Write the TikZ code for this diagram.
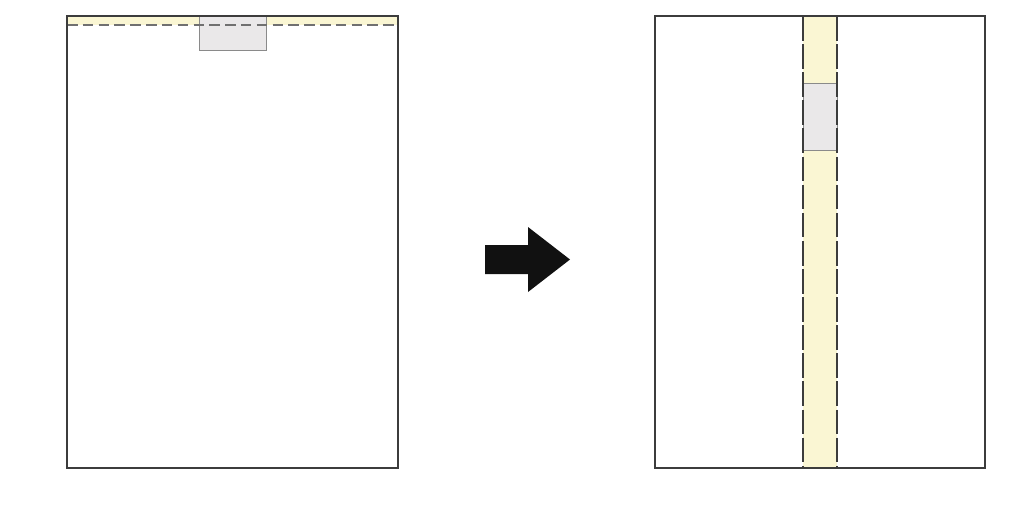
\documentclass[tikz,border=0pt]{standalone}
\usepackage{xcolor}
\usepackage{tikz}
\usetikzlibrary{calc}
\definecolor{stripyellow}{HTML}{FAF6D3}
\definecolor{tabgray}{HTML}{EAE8E9}
\definecolor{sheetborder}{HTML}{3C3C3C}
\definecolor{dashgray}{HTML}{707070}
\definecolor{arrowblack}{HTML}{111111}

\begin{document}
\begin{tikzpicture}[x=0.02cm,y=-0.02cm,
  sheet/.style={draw=sheetborder,line width=0.6pt},
  strip/.style={fill=stripyellow},
  tab/.style={fill=tabgray,draw=sheetborder!60,line width=0.5pt},
  fold/.style={draw=dashgray,dash pattern=on 6pt off 3pt,line width=0.7pt},
  sidefold/.style={draw=sheetborder,dash pattern=on 14pt off 2pt,line width=0.7pt}]
\useasboundingbox[fill=white] (0,0) rectangle (1030,529);
% before: strip along the top edge
\fill[strip] (67,16) rectangle (398,25);
\draw[tab] (199,16) rectangle (266,50);
\draw[fold] (67,25) -- (398,25);
\draw[sheet] (67,16) rectangle (398,468);
% arrow
\fill[arrowblack] (485,245) -- (528,245) -- (528,227) -- (570,259.5) -- (528,292) -- (528,274) -- (485,274) -- cycle;
% after: strip down the middle
\fill[strip] (803,16) rectangle (837,468);
\draw[tab] (803,83) rectangle (837,150);
\draw[sidefold] (803,16) -- (803,468);
\draw[sidefold] (837,16) -- (837,468);
\draw[sheet] (655,16) rectangle (985,468);
\end{tikzpicture}
\end{document}
